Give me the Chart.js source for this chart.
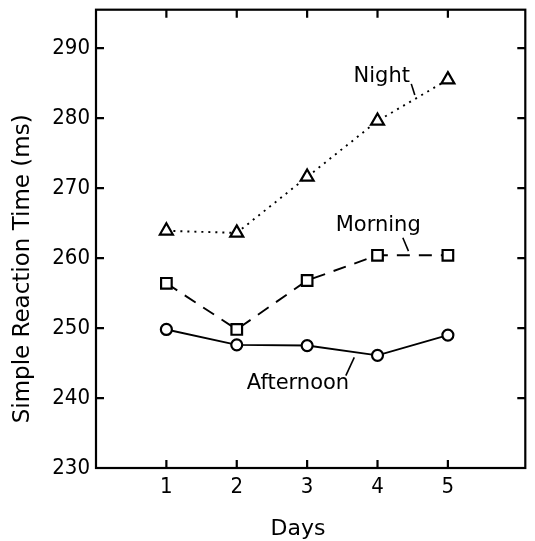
<!DOCTYPE html>
<html>
<head>
<meta charset="utf-8">
<script src="https://cdn.jsdelivr.net/npm/chart.js@4.4.0/dist/chart.umd.min.js"></script>
<style>
	html, body { margin: 0; padding: 0; background: #fff; }
	#wrap { width: 535px; height: 541px; }
</style>
</head>
<body>
<div id="wrap"><canvas id="reactionChart"></canvas></div>
<script>
// values
const days = [1, 2, 3, 4, 5];
const nightRT = [263.9, 263.6, 271.6, 279.6, 285.5];
const morningRT = [256.4, 249.8, 256.8, 260.4, 260.4];
const afternoonRT = [249.8, 247.6, 247.5, 246.1, 249.0];
const yTicks = [230, 240, 250, 260, 270, 280, 290];

// in-plot labels with their leader lines, in data units
const seriesLabels = [
	{ text: 'Night', x: 4.06, y: 285.9, from: [4.48, 284.9], to: [4.53, 283.3] },
	{ text: 'Morning', x: 4.01, y: 264.6, from: [4.36, 262.9], to: [4.44, 261.0] },
	{ text: 'Afternoon', x: 2.87, y: 242.0, from: [3.55, 243.2], to: [3.67, 245.8] }
];

const xTitle = 'Days';
const yTitle = 'Simple Reaction Time (ms)';

const TICK_FONT = '"DejaVu Sans Condensed", "DejaVu Sans", sans-serif';
const TEXT_FONT = '"DejaVu Sans", sans-serif';

const toPts = (vals) => vals.map((v, i) => ({ x: days[i], y: v }));

// box round the plot, ticks pointing inwards, axis titles and series labels
const framePlugin = {
	id: 'frame',
	afterDraw(chart) {
		const { ctx, chartArea: a } = chart;
		const xs = chart.scales.x, ys = chart.scales.y;
		const tl = 8;
		ctx.save();
		ctx.strokeStyle = '#000';
		ctx.lineWidth = 2.2;
		ctx.strokeRect(a.left, a.top, a.right - a.left, a.bottom - a.top);
		ctx.beginPath();
		days.forEach(d => {
			const px = xs.getPixelForValue(d);
			ctx.moveTo(px, a.bottom); ctx.lineTo(px, a.bottom - tl);
			ctx.moveTo(px, a.top); ctx.lineTo(px, a.top + tl);
		});
		yTicks.forEach(v => {
			const py = ys.getPixelForValue(v);
			ctx.moveTo(a.left, py); ctx.lineTo(a.left + tl, py);
			ctx.moveTo(a.right, py); ctx.lineTo(a.right - tl, py);
		});
		ctx.stroke();

		ctx.fillStyle = '#000';
		ctx.textAlign = 'center';
		ctx.textBaseline = 'middle';
		ctx.lineWidth = 1.6;
		ctx.font = '21px ' + TEXT_FONT;
		seriesLabels.forEach(l => {
			ctx.fillText(l.text, xs.getPixelForValue(l.x), ys.getPixelForValue(l.y));
			ctx.beginPath();
			ctx.moveTo(xs.getPixelForValue(l.from[0]), ys.getPixelForValue(l.from[1]));
			ctx.lineTo(xs.getPixelForValue(l.to[0]), ys.getPixelForValue(l.to[1]));
			ctx.stroke();
		});

		// axis titles
		ctx.font = '22px ' + TEXT_FONT;
		ctx.fillText(xTitle, a.left + 202, a.bottom + 61);
		ctx.translate(a.left - 73, (a.top + a.bottom) / 2 + 30);
		ctx.rotate(-Math.PI / 2);
		ctx.font = '23px ' + TEXT_FONT;
		ctx.fillText(yTitle, 0, 0);
		ctx.restore();
	}
};

const common = {
	borderColor: '#000',
	borderWidth: 1.9,
	pointBackgroundColor: '#fff',
	pointBorderColor: '#000',
	pointBorderWidth: 2.2,
	tension: 0,
	fill: false,
	showLine: true
};

new Chart(document.getElementById('reactionChart'), {
	type: 'scatter',
	data: {
		datasets: [
			{ ...common, label: 'Night', data: toPts(nightRT),
				borderDash: [2, 5], pointStyle: 'triangle', pointRadius: 7.5 },
			{ ...common, label: 'Morning', data: toPts(morningRT),
				borderDash: [13, 9], pointStyle: 'rect', pointRadius: 7.5 },
			{ ...common, label: 'Afternoon', data: toPts(afternoonRT),
				pointStyle: 'circle', pointRadius: 5.5 }
		]
	},
	options: {
		responsive: true,
		maintainAspectRatio: false,
		animation: false,
		layout: { padding: { top: 6, right: 0, left: 0, bottom: 0 } },
		plugins: { legend: { display: false }, tooltip: { enabled: false } },
		scales: {
			x: {
				type: 'linear', min: 0, max: 6.1,
				afterBuildTicks: (s) => { s.ticks = days.map(v => ({ value: v })); },
				afterFit: (s) => { s.height = 73; s.paddingLeft = 0; s.paddingRight = 0; },
				grid: { display: false, drawTicks: false },
				border: { display: false },
				ticks: { color: '#000', padding: 6, font: { family: TICK_FONT, size: 22 } }
			},
			y: {
				type: 'linear', min: 230, max: 295.5,
				afterBuildTicks: (s) => { s.ticks = yTicks.map(v => ({ value: v })); },
				afterFit: (s) => { s.width = 96; s.paddingTop = 0; s.paddingBottom = 0; },
				grid: { display: false, drawTicks: false },
				border: { display: false },
				ticks: { color: '#000', padding: 6, font: { family: TICK_FONT, size: 22 } }
			}
		}
	},
	plugins: [framePlugin]
});
</script>
</body>
</html>
